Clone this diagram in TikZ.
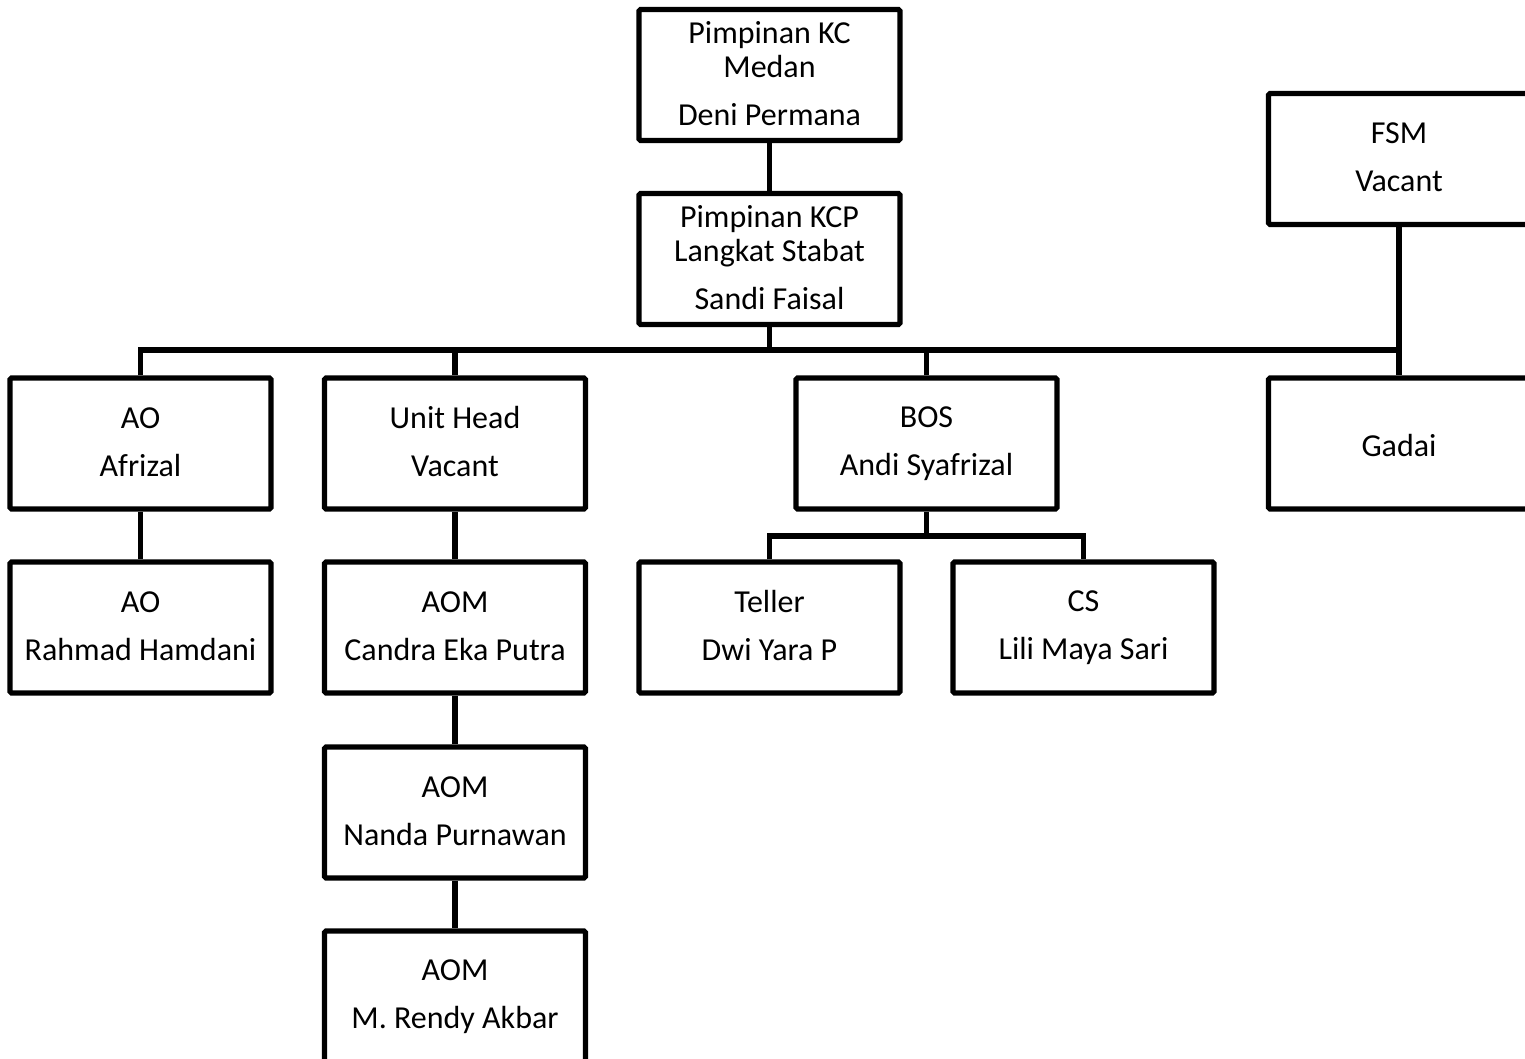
\documentclass[tikz,border=0pt]{standalone}
\usepackage{fontspec}
\setmainfont{Carlito}

\begin{document}
\begin{tikzpicture}[x=0.5pt, y=-0.5pt,
    post/.style={draw, line width=2.6pt, rounded corners=0.8pt, align=center,
      minimum width=130.5pt, minimum height=65.5pt, inner sep=0pt,
      font=\fontsize{16}{17}\selectfont,
      execute at begin node=\rule{0pt}{15.2pt},
      execute at end node=\rule[-1.8pt]{0pt}{1.8pt}},
    link/.style={line width=2.6pt}]
    \useasboundingbox (0, 0) rectangle (1525, 1059);
    \clip (0, 0) rectangle (1525, 1059);
    % top of the chart
    \node [post] (kc) at (769.5, 75) {Pimpinan KC\\ Medan\\[7pt] Deni Permana};
    \node [post] (kcp) at (769.5, 259) {Pimpinan KCP\\ Langkat Stabat\\[7pt] Sandi Faisal};
    \node [post] (fsm) at (1399, 159) {FSM\\[7pt] Vacant};
    % second row
    \node [post] (ao) at (140.5, 443.5) {AO\\[7pt] Afrizal};
    \node [post] (uh) at (455, 443.5) {Unit Head\\[7pt] Vacant};
    \node [post] (bos) at (926.5, 443.5) {BOS\\[7pt] Andi Syafrizal};
    \node [post] (gadai) at (1399, 443.5) {Gadai};
    % third row
    \node [post] (ao2) at (140.5, 627.5) {AO\\[7pt] Rahmad Hamdani};
    \node [post] (aom1) at (455, 627.5) {AOM\\[7pt] Candra Eka Putra};
    \node [post] (teller) at (769.5, 627.5) {Teller\\[7pt] Dwi Yara P};
    \node [post] (cs) at (1083.5, 627.5) {CS\\[7pt] Lili Maya Sari};
    % the AOM column
    \node [post] (aom2) at (455, 812.5) {AOM\\[7pt] Nanda Purnawan};
    \node [post] (aom3) at (455, 996.5) {AOM\\[7pt] M. Rendy Akbar};

    \coordinate (bus) at (769.5, 350);
    \coordinate (bosbus) at (926.5, 536);

    \draw [link] (kc) -- (kcp);
    \draw [link] (kcp) -- (bus);
    \draw [link] (ao.north) |- (bus) -| (gadai.north);
    \draw [link] (uh.north) |- (bus);
    \draw [link] (bos.north) |- (bus);
    \draw [link] (fsm) -- (gadai);
    \draw [link] (ao) -- (ao2);
    \draw [link] (uh) -- (aom1);
    \draw [link] (aom1) -- (aom2);
    \draw [link] (aom2) -- (aom3);
    \draw [link] (bos) -- (bosbus);
    \draw [link] (teller.north) |- (bosbus) -| (cs.north);
  \end{tikzpicture}
\end{document}
